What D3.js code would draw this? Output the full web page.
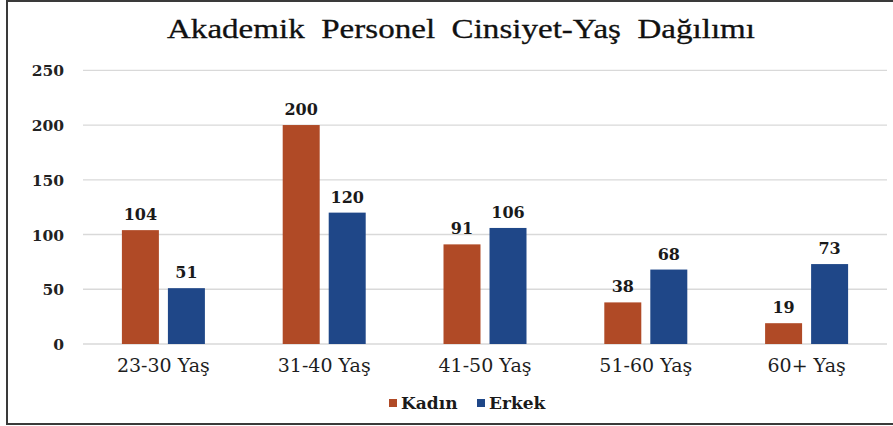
<!DOCTYPE html>
<html>
<head>
<meta charset="utf-8">
<script src="https://cdn.jsdelivr.net/npm/d3@7"></script>
<style>
  html, body { margin: 0; padding: 0; background: #fff; }
  svg { display: block; }
</style>
</head>
<body>
<svg id="chart" width="893" height="426"></svg>
<script>
const title = "Akademik  Personel  Cinsiyet-Yaş  Dağılımı";
const categories = ["23-30 Yaş", "31-40 Yaş", "41-50 Yaş", "51-60 Yaş", "60+ Yaş"];
const seriesNames = ["Kadın", "Erkek"];
const kadin = [104, 200, 91, 38, 19];
const erkek = [51, 120, 106, 68, 73];
const yTicks = [0, 50, 100, 150, 200, 250];
const colors = ["#B04A26", "#1F4788"];

const svg = d3.select("#chart");
const plotL = 83, plotR = 887, plotT = 70.3, plotB = 344;

// frame
svg.append("rect")
  .attr("x", 7).attr("y", 1).attr("width", 892).attr("height", 423)
  .attr("fill", "#fff").attr("stroke", "#3a3a3a").attr("stroke-width", 2);

const x0 = d3.scaleBand().domain(categories).range([plotL, plotR]).paddingInner(0).paddingOuter(0);
const x1 = d3.scaleBand().domain(seriesNames).range([0, 83]).paddingInner(0.196);
const y = d3.scaleLinear().domain([0, 250]).range([plotB, plotT]);

// gridlines
svg.append("g").selectAll("line").data(yTicks).join("line")
  .attr("x1", plotL).attr("x2", plotR)
  .attr("y1", d => y(d)).attr("y2", d => y(d))
  .attr("stroke", "#d9d9d9").attr("stroke-width", 1.3);

// y axis labels
const yAxis = d3.axisLeft(y).tickValues(yTicks).tickSize(0).tickPadding(0);
const yg = svg.append("g").attr("transform", `translate(64,0)`).call(yAxis);
yg.select(".domain").remove();
yg.selectAll("text")
  .attr("font-family", "DejaVu Serif").attr("font-weight", "bold")
  .attr("font-size", 15.5).attr("fill", "#222").attr("dy", "0.36em");

// x axis labels
const xAxis = d3.axisBottom(x0).tickSize(0).tickPadding(0);
const xg = svg.append("g").attr("transform", `translate(0,${plotB})`).call(xAxis);
xg.select(".domain").remove();
xg.selectAll("text")
  .attr("font-family", "DejaVu Serif").attr("font-size", 19)
  .attr("fill", "#1e1e1e").attr("y", 21).attr("dy", "0.36em");

const data = categories.map((c, i) => ({ cat: c, values: [
  { key: "Kadın", value: kadin[i], ci: 0 },
  { key: "Erkek", value: erkek[i], ci: 1 }
]}));

const groups = svg.append("g").selectAll("g").data(data).join("g")
  .attr("transform", d => `translate(${x0(d.cat) + (x0.bandwidth() - 83) / 2},0)`);

groups.selectAll("rect").data(d => d.values).join("rect")
  .attr("x", d => x1(d.key)).attr("width", x1.bandwidth())
  .attr("y", d => y(d.value)).attr("height", d => plotB - y(d.value))
  .attr("fill", d => colors[d.ci]);

groups.selectAll("text").data(d => d.values).join("text")
  .attr("x", d => x1(d.key) + x1.bandwidth() / 2)
  .attr("y", d => y(d.value) - 10)
  .attr("text-anchor", "middle")
  .attr("font-family", "DejaVu Serif").attr("font-weight", "bold")
  .attr("font-size", 16).attr("fill", "#1a1a1a")
  .text(d => d.value);

// title
svg.append("text")
  .attr("x", 461).attr("y", 38)
  .attr("text-anchor", "middle")
  .attr("font-family", "Liberation Serif").attr("font-size", 27)
  .attr("fill", "#111")
  .attr("stroke", "#111").attr("stroke-width", 0.3)
  .attr("textLength", 588).attr("lengthAdjust", "spacingAndGlyphs")
  .style("white-space", "pre")
  .text(title);

// legend
const legendX = [389, 477];
const leg = svg.append("g").selectAll("g").data(seriesNames).join("g")
  .attr("transform", (d, i) => `translate(${legendX[i]},403)`);
leg.append("rect").attr("x", 0).attr("y", -4).attr("width", 8).attr("height", 8)
  .attr("fill", (d, i) => colors[i]);
leg.append("text").attr("x", 12).attr("y", 0).attr("dy", "0.36em")
  .attr("font-family", "DejaVu Serif").attr("font-weight", "bold")
  .attr("font-size", 17).attr("fill", "#1a1a1a")
  .text(d => d);
</script>
</body>
</html>
